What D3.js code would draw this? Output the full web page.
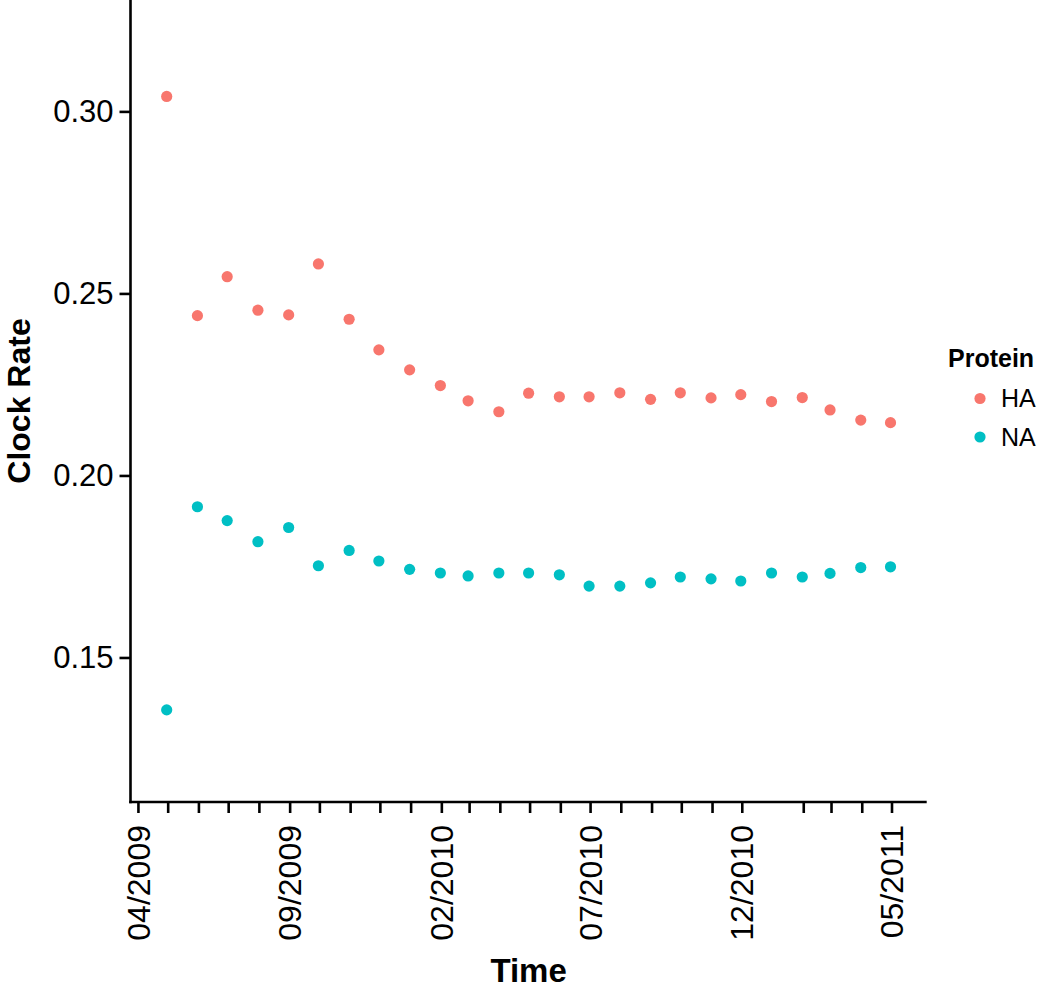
<!DOCTYPE html>
<html>
<head>
<meta charset="utf-8">
<script src="https://cdn.jsdelivr.net/npm/d3@7"></script>
<style>
  html, body { margin: 0; padding: 0; background: #fff; }
  svg { display: block; }
  text { font-family: "Liberation Sans", Arial, sans-serif; }
</style>
</head>
<body>
<div id="chart"></div>
<script>
// ---- Data ----
const dates = [
  "2009-04-30","2009-05-31","2009-06-30","2009-07-31","2009-08-31","2009-09-30",
  "2009-10-31","2009-11-30","2009-12-31","2010-01-31","2010-02-28","2010-03-31",
  "2010-04-30","2010-05-31","2010-06-30","2010-07-31","2010-08-31","2010-09-30",
  "2010-10-31","2010-11-30","2010-12-31","2011-01-31","2011-02-28","2011-03-31",
  "2011-04-30"
];
const haValues = [
  0.3041, 0.2439, 0.2546, 0.2454, 0.2441, 0.2581,
  0.2429, 0.2345, 0.2290, 0.2247, 0.2205, 0.2175,
  0.2226, 0.2216, 0.2216, 0.2227, 0.2209, 0.2227,
  0.2213, 0.2222, 0.2203, 0.2214, 0.2180, 0.2152,
  0.2145
];
const naValues = [
  0.1356, 0.1914, 0.1876, 0.1818, 0.1857, 0.1752,
  0.1794, 0.1765, 0.1742, 0.1732, 0.1724, 0.1732,
  0.1732, 0.1727, 0.1696, 0.1696, 0.1705, 0.1721,
  0.1716, 0.1710, 0.1732, 0.1721, 0.1731, 0.1747,
  0.1749
];
const proteins = ["HA", "NA"];
const colors = ["#F8766D", "#00BFC4"];
const yTicks = [0.15, 0.20, 0.25, 0.30];
const xLabelTicks = ["2009-04-01","2009-09-01","2010-02-01","2010-07-01","2010-12-01","2011-05-01"];

// ---- Layout ----
const W = 1050, H = 989;
const parse = d3.utcParse("%Y-%m-%d");
const dateObjs = dates.map(parse);

const svg = d3.select("#chart").append("svg").attr("width", W).attr("height", H);

const panel = { left: 130.5, right: 926.7, top: 0, bottom: 802 };

const ext = d3.extent(dateObjs);
const pad = (ext[1] - ext[0]) * 0.05;
const x = d3.scaleUtc()
  .domain([new Date(+ext[0] - pad), new Date(+ext[1] + pad)])
  .range([panel.left, panel.right]);

const y = d3.scaleLinear()
  .domain([0.1103, 0.3306])
  .range([panel.bottom, panel.top]);

// ---- Points ----
const series = [haValues, naValues];
series.forEach((vals, si) => {
  svg.append("g").selectAll("circle")
    .data(vals.map((v, i) => ({ d: dateObjs[i], v })))
    .join("circle")
    .attr("cx", d => x(d.d))
    .attr("cy", d => y(d.v))
    .attr("r", 5.6)
    .attr("fill", colors[si]);
});

// ---- Axes ----
const tickFont = 31;
const yAxis = d3.axisLeft(y).tickValues(yTicks).tickFormat(d3.format(".2f"))
  .tickSize(11).tickPadding(6);
const gy = svg.append("g").attr("transform", `translate(${panel.left},0)`).call(yAxis);
gy.select(".domain").remove();
gy.selectAll(".tick line").attr("stroke", "#000").attr("stroke-width", 2.6);
gy.selectAll(".tick text").attr("font-size", tickFont).attr("fill", "#000")
  .attr("font-family", "Liberation Sans, Arial, sans-serif");
svg.append("line")
  .attr("x1", panel.left).attr("x2", panel.left)
  .attr("y1", panel.top).attr("y2", panel.bottom + 1.3)
  .attr("stroke", "#000").attr("stroke-width", 2.6);

// x axis: monthly ticks, labels every 5 months; the 01/2011 tick is absent in the reference
const monthTicks = d3.utcMonth.range(parse("2009-04-01"), parse("2011-05-02"))
  .filter(d => d3.utcFormat("%Y-%m")(d) !== "2011-01");
const labelSet = new Set(xLabelTicks);
const xAxis = d3.axisBottom(x).tickValues(monthTicks)
  .tickFormat(d => labelSet.has(d3.utcFormat("%Y-%m-%d")(d)) ? d3.utcFormat("%m/%Y")(d) : "")
  .tickSize(11).tickPadding(0);
const gx = svg.append("g").attr("transform", `translate(0,${panel.bottom})`).call(xAxis);
gx.select(".domain").remove();
gx.selectAll(".tick line").attr("stroke", "#000").attr("stroke-width", 2.6);
gx.selectAll(".tick text")
  .attr("font-size", 32).attr("fill", "#000")
  .attr("font-family", "Liberation Sans, Arial, sans-serif")
  .attr("text-anchor", "end")
  .attr("dy", "0.35em")
  .attr("transform", "translate(0,23) rotate(-90)")
  .attr("y", 0).attr("x", 0);
svg.append("line")
  .attr("x1", panel.left - 1.3).attr("x2", panel.right)
  .attr("y1", panel.bottom).attr("y2", panel.bottom)
  .attr("stroke", "#000").attr("stroke-width", 2.6);

// ---- Axis titles ----
svg.append("text")
  .attr("x", (panel.left + panel.right) / 2).attr("y", 982)
  .attr("text-anchor", "middle").attr("font-size", 33).attr("font-weight", "bold")
  .text("Time");
svg.append("text")
  .attr("transform", `translate(30,${(panel.top + panel.bottom) / 2}) rotate(-90)`)
  .attr("text-anchor", "middle").attr("font-size", 32).attr("font-weight", "bold")
  .text("Clock Rate");

// ---- Legend ----
const lg = svg.append("g");
lg.append("text").attr("x", 948).attr("y", 367).attr("font-size", 25).attr("font-weight", "bold")
  .text("Protein");
proteins.forEach((p, i) => {
  const cy = 398.5 + i * 38.5;
  lg.append("circle").attr("cx", 980).attr("cy", cy).attr("r", 5.6).attr("fill", colors[i]);
  lg.append("text").attr("x", 1001).attr("y", cy).attr("dy", "0.35em")
    .attr("font-size", 25).text(p);
});
</script>
</body>
</html>
